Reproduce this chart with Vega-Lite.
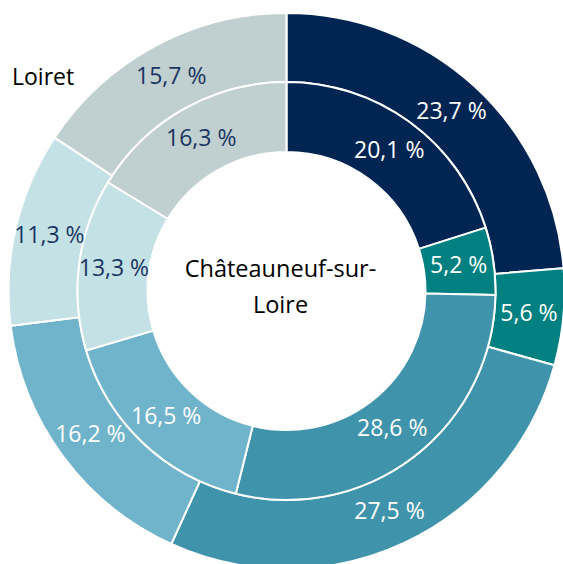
{
  "$schema": "https://vega.github.io/schema/vega-lite/v6.json",
  "autosize": "none",
  "width": 553,
  "height": 546,
  "padding": {"left": 10, "top": 18, "right": 0, "bottom": 0},
  "background": "white",
  "config": {"view": {"stroke": null}},
  "title": {"text": "Loiret", "anchor": "start", "frame": "group", "orient": "top", "offset": -81, "dx": 2, "fontSize": 23, "font": "Open Sans", "fontWeight": "normal", "color": "black"},
  "datasets": {
    "slices": [
      {"ring": "Loiret", "cat": "A", "ord": 1, "value": 23.7, "label": "23,7 %"},
      {"ring": "Loiret", "cat": "B", "ord": 2, "value": 5.6, "label": "5,6 %"},
      {"ring": "Loiret", "cat": "C", "ord": 3, "value": 27.5, "label": "27,5 %"},
      {"ring": "Loiret", "cat": "D", "ord": 4, "value": 16.2, "label": "16,2 %"},
      {"ring": "Loiret", "cat": "E", "ord": 5, "value": 11.3, "label": "11,3 %"},
      {"ring": "Loiret", "cat": "F", "ord": 6, "value": 15.7, "label": "15,7 %"},
      {"ring": "Châteauneuf-sur-Loire", "cat": "A", "ord": 1, "value": 20.1, "label": "20,1 %"},
      {"ring": "Châteauneuf-sur-Loire", "cat": "B", "ord": 2, "value": 5.2, "label": "5,2 %"},
      {"ring": "Châteauneuf-sur-Loire", "cat": "C", "ord": 3, "value": 28.6, "label": "28,6 %"},
      {"ring": "Châteauneuf-sur-Loire", "cat": "D", "ord": 4, "value": 16.5, "label": "16,5 %"},
      {"ring": "Châteauneuf-sur-Loire", "cat": "E", "ord": 5, "value": 13.3, "label": "13,3 %"},
      {"ring": "Châteauneuf-sur-Loire", "cat": "F", "ord": 6, "value": 16.3, "label": "16,3 %"}
    ],
    "center": [
      {"name": "Châteauneuf-sur-\nLoire"}
    ]
  },
  "layer": [
    {
      "data": {"name": "slices"},
      "transform": [{"filter": "datum.ring == 'Loiret'"}],
      "mark": {"type": "arc", "radius": 278, "radius2": 209, "stroke": "white", "strokeWidth": 2},
      "encoding": {
        "theta": {"field": "value", "type": "quantitative", "stack": true},
        "order": {"field": "ord", "type": "quantitative"},
        "color": {"field": "cat", "type": "nominal", "legend": null,
          "scale": {"domain": ["A", "B", "C", "D", "E", "F"], "range": ["#002552", "#008080", "#3f94ac", "#6fb4cb", "#c4e1e6", "#c0cfcf"]}}
      }
    },
    {
      "data": {"name": "slices"},
      "transform": [{"filter": "datum.ring != 'Loiret'"}],
      "mark": {"type": "arc", "radius": 209, "radius2": 139, "stroke": "white", "strokeWidth": 2},
      "encoding": {
        "theta": {"field": "value", "type": "quantitative", "stack": true},
        "order": {"field": "ord", "type": "quantitative"},
        "color": {"field": "cat", "type": "nominal", "legend": null}
      }
    },
    {
      "data": {"name": "slices"},
      "transform": [{"filter": "datum.ring == 'Loiret'"}],
      "mark": {"type": "text", "radius": 243.5, "font": "Open Sans", "fontSize": 23},
      "encoding": {
        "theta": {"field": "value", "type": "quantitative", "stack": true},
        "order": {"field": "ord", "type": "quantitative"},
        "text": {"field": "label"},
        "color": {"condition": {"test": "datum.cat == 'E' || datum.cat == 'F'", "value": "#1b3562"}, "value": "white"}
      }
    },
    {
      "data": {"name": "slices"},
      "transform": [{"filter": "datum.ring != 'Loiret'"}],
      "mark": {"type": "text", "radius": 174, "font": "Open Sans", "fontSize": 23},
      "encoding": {
        "theta": {"field": "value", "type": "quantitative", "stack": true},
        "order": {"field": "ord", "type": "quantitative"},
        "text": {"field": "label"},
        "color": {"condition": {"test": "datum.cat == 'E' || datum.cat == 'F'", "value": "#1b3562"}, "value": "white"}
      }
    },
    {
      "data": {"name": "center"},
      "mark": {"type": "text", "font": "Open Sans", "fontSize": 23.5, "lineBreak": "\n", "lineHeight": 36, "dx": -6, "dy": -21, "color": "black"},
      "encoding": {"text": {"field": "name"}}
    }
  ]
}
